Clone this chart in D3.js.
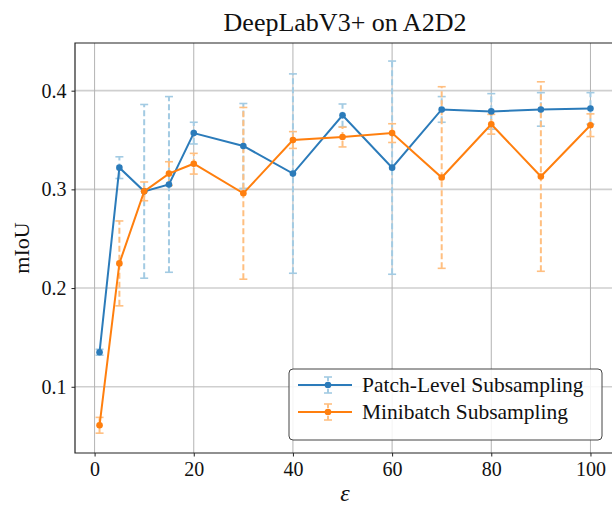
<!DOCTYPE html>
<html>
<head>
<meta charset="utf-8">
<script src="https://cdn.jsdelivr.net/npm/d3@7"></script>
<style>
  body { margin: 0; background: #fff; }
  text { font-family: "Liberation Serif", "DejaVu Serif", serif; fill: #111; }
</style>
</head>
<body>
<svg width="612" height="506"></svg>
<script>
// data
const eps = [1, 5, 10, 15, 20, 30, 40, 50, 60, 70, 80, 90, 100];
const patchMean = [0.135, 0.322, 0.298, 0.305, 0.357, 0.344, 0.316, 0.375, 0.322, 0.381, 0.379, 0.381, 0.382];
const patchStd = [0.003, 0.011, 0.088, 0.089, 0.011, 0.043, 0.101, 0.0115, 0.108, 0.013, 0.018, 0.017, 0.016];
const miniMean = [0.061, 0.225, 0.298, 0.316, 0.326, 0.296, 0.350, 0.353, 0.357, 0.312, 0.366, 0.313, 0.365];
const miniStd = [0.008, 0.043, 0.0095, 0.012, 0.0105, 0.087, 0.0085, 0.010, 0.0095, 0.092, 0.010, 0.096, 0.0115];
const xTicks = [0, 20, 40, 60, 80, 100];
const yTicks = [0.1, 0.2, 0.3, 0.4];
const seriesNames = ['Patch-Level Subsampling', 'Minibatch Subsampling'];

const svg = d3.select('svg');
const mLeft = 75, mRight = 615, mTop = 43, mBottom = 453;

const x = d3.scaleLinear().domain([-3.95, 104.95]).range([mLeft, mRight]);
const y = d3.scaleLinear().domain([0.0329, 0.4483]).range([mBottom, mTop]);

const series = [
  {name: seriesNames[0], mean: patchMean, std: patchStd, color: '#2b7bba', err: '#a3cbe3'},
  {name: seriesNames[1], mean: miniMean, std: miniStd, color: '#ff7f0e', err: '#ffbf80'}
];

// grid
svg.append('g').selectAll('line').data(yTicks).join('line')
    .attr('x1', mLeft).attr('x2', mRight)
    .attr('y1', d => y(d)).attr('y2', d => y(d))
    .attr('stroke', '#cfcfcf').attr('stroke-width', 1.6);
svg.append('g').selectAll('line').data(xTicks).join('line')
    .attr('x1', d => x(d)).attr('x2', d => x(d))
    .attr('y1', mTop).attr('y2', mBottom)
    .attr('stroke', '#b3b3b3').attr('stroke-width', 1);

// axes
const xAxis = svg.append('g').attr('transform', `translate(0, ${mBottom})`)
    .call(d3.axisBottom(x).tickValues(xTicks).tickSize(3.5).tickPadding(5).tickFormat(d3.format('d')));
const yAxis = svg.append('g').attr('transform', `translate(${mLeft}, 0)`)
    .call(d3.axisLeft(y).tickValues(yTicks).tickSize(3.5).tickPadding(5).tickFormat(d3.format('.1f')));
[xAxis, yAxis].forEach(a => {
  a.select('.domain').remove();
  a.selectAll('text').attr('font-family', '"Liberation Serif", serif').attr('font-size', 20).attr('fill', '#111');
  a.selectAll('line').attr('stroke', '#222');
});

// spines
svg.append('path')
    .attr('d', `M${mRight},${mTop}H${mLeft}V${mBottom}H${mRight}`)
    .attr('fill', 'none').attr('stroke', '#222').attr('stroke-width', 1.2);

// error bars
series.forEach(s => {
  const g = svg.append('g');
  eps.forEach((e, i) => {
    const lo = y(s.mean[i] - s.std[i]), hi = y(s.mean[i] + s.std[i]);
    g.append('line')
        .attr('x1', x(e)).attr('x2', x(e)).attr('y1', lo).attr('y2', hi)
        .attr('stroke', s.err).attr('stroke-width', 2).attr('stroke-dasharray', '6,3');
    [lo, hi].forEach(v => g.append('line')
        .attr('x1', x(e) - 4).attr('x2', x(e) + 4).attr('y1', v).attr('y2', v)
        .attr('stroke', s.err).attr('stroke-width', 1.6));
  });
});

// lines + markers
const line = d3.line().x((d, i) => x(eps[i])).y(d => y(d));
series.forEach(s => {
  svg.append('path').datum(s.mean).attr('d', line)
      .attr('fill', 'none').attr('stroke', s.color).attr('stroke-width', 2);
  svg.append('g').selectAll('circle').data(s.mean).join('circle')
      .attr('cx', (d, i) => x(eps[i])).attr('cy', d => y(d)).attr('r', 3.3)
      .attr('fill', s.color);
});

// title and labels
svg.append('text').attr('x', 345).attr('y', 31).attr('text-anchor', 'middle')
    .attr('font-size', 26).text('DeepLabV3+ on A2D2');
svg.append('text').attr('x', 345).attr('y', 501).attr('text-anchor', 'middle')
    .attr('font-size', 24).attr('font-style', 'italic').text('ε');
svg.append('text').attr('transform', 'translate(29, 248) rotate(-90)').attr('text-anchor', 'middle')
    .attr('font-size', 22).text('mIoU');

// legend
const lg = svg.append('g');
lg.append('rect').attr('x', 289).attr('y', 369).attr('width', 313).attr('height', 71)
    .attr('rx', 4).attr('fill', 'white').attr('fill-opacity', 0.85)
    .attr('stroke', '#444').attr('stroke-width', 1);
series.forEach((s, i) => {
  const cy = 385 + i * 27;
  const cx = 328;
  lg.append('line').attr('x1', cx).attr('x2', cx).attr('y1', cy - 8).attr('y2', cy + 8)
      .attr('stroke', s.err).attr('stroke-width', 2).attr('stroke-dasharray', '4,2');
  [cy - 8, cy + 8].forEach(v => lg.append('line')
      .attr('x1', cx - 4).attr('x2', cx + 4).attr('y1', v).attr('y2', v)
      .attr('stroke', s.err).attr('stroke-width', 1.6));
  lg.append('line').attr('x1', 298).attr('x2', 352).attr('y1', cy).attr('y2', cy)
      .attr('stroke', s.color).attr('stroke-width', 2);
  lg.append('circle').attr('cx', cx).attr('cy', cy).attr('r', 3.3).attr('fill', s.color);
  lg.append('text').attr('x', 362).attr('y', cy + 7).attr('font-size', 21.5).text(s.name);
});
</script>
</body>
</html>
